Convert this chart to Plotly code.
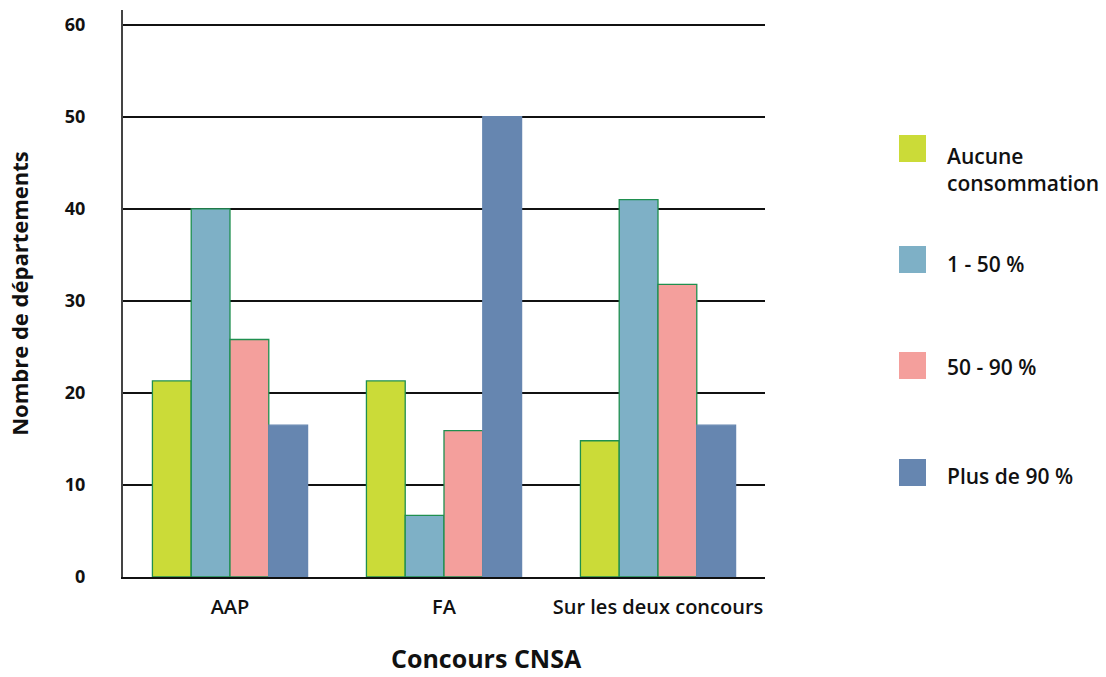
import plotly.graph_objects as go

# Nombre de départements par niveau de consommation, pour chaque concours
categories = ["AAP", "FA", "Sur les deux concours"]
series_names = ["Aucune<br>consommation", "1 - 50 %", "50 - 90 %", "Plus de 90 %"]
aucune = [21.3, 21.3, 14.8]
de_1_a_50 = [40, 6.7, 41]
de_50_a_90 = [25.8, 15.9, 31.8]
plus_de_90 = [16.5, 50, 16.5]

colors = ["#cbdb38", "#7eb0c6", "#f49f9c", "#6686b0"]
edge_colors = ["#1f8f4f", "#1f8f4f", "#1f8f4f", "#6686b0"]
values = [aucune, de_1_a_50, de_50_a_90, plus_de_90]

W, H = 1106, 677
L, R, T, B = 123, 341, 10, 100
plot_w = W - L - R
plot_h = H - T - B

FONT = "Open Sans"

fig = go.Figure()
for name, vals, col, edge in zip(series_names, values, colors, edge_colors):
    fig.add_trace(go.Bar(
        x=categories, y=vals, name=name,
        marker=dict(color=col, line=dict(color=edge, width=1.3)),
        showlegend=False,
    ))


def px_to_paper(px, py):
    return (px - L) / plot_w, (H - B - py) / plot_h


# Custom legend: large square swatches with labels on the right
legend_rows = [(135, 169), (246, 264), (352, 367), (459, 476)]
shapes = []
annotations = []
for (top, text_y), name, col in zip(legend_rows, series_names, colors):
    x0, y0 = px_to_paper(899, top + 27)
    x1, y1 = px_to_paper(926, top)
    shapes.append(dict(type="rect", xref="paper", yref="paper",
                       x0=x0, x1=x1, y0=y0, y1=y1,
                       fillcolor=col, line=dict(width=0)))
    tx, ty = px_to_paper(945, text_y)
    annotations.append(dict(xref="paper", yref="paper", x=tx, y=ty,
                            xanchor="left", yanchor="middle", align="left",
                            text=name, showarrow=False,
                            font=dict(family=FONT, size=21, color="#111111",
                                      weight=600)))

# x-axis title
tx, ty = px_to_paper(487, 658)
annotations.append(dict(xref="paper", yref="paper", x=tx, y=ty,
                        xanchor="center", yanchor="middle",
                        text="<b>Concours CNSA</b>", showarrow=False,
                        font=dict(family=FONT, size=25, color="#111111")))

fig.update_layout(
    width=W, height=H,
    margin=dict(l=L, r=R, t=T, b=B, pad=0),
    paper_bgcolor="white", plot_bgcolor="white",
    barmode="group", bargap=0.275, bargroupgap=0,
    shapes=shapes, annotations=annotations,
    font=dict(family=FONT, color="#111111"),
)
fig.update_xaxes(
    showline=True, linecolor="#111111", linewidth=1.5,
    showgrid=False, ticks="",
    tickfont=dict(family=FONT, size=20, color="#111111", weight=600),
    ticklabelstandoff=11,
)
fig.update_yaxes(
    range=[0, 61.6], tickvals=[0, 10, 20, 30, 40, 50, 60],
    showgrid=True, gridcolor="#111111", gridwidth=1.5,
    showline=True, linecolor="#444444", linewidth=2,
    zeroline=False, ticks="",
    tickfont=dict(family=FONT, size=18, color="#111111", weight="bold"),
    ticklabelstandoff=32,
    title=dict(text="<b>Nombre de départements</b>", standoff=30,
               font=dict(family=FONT, size=22, color="#111111")),
)

fig.write_html("out.html")
